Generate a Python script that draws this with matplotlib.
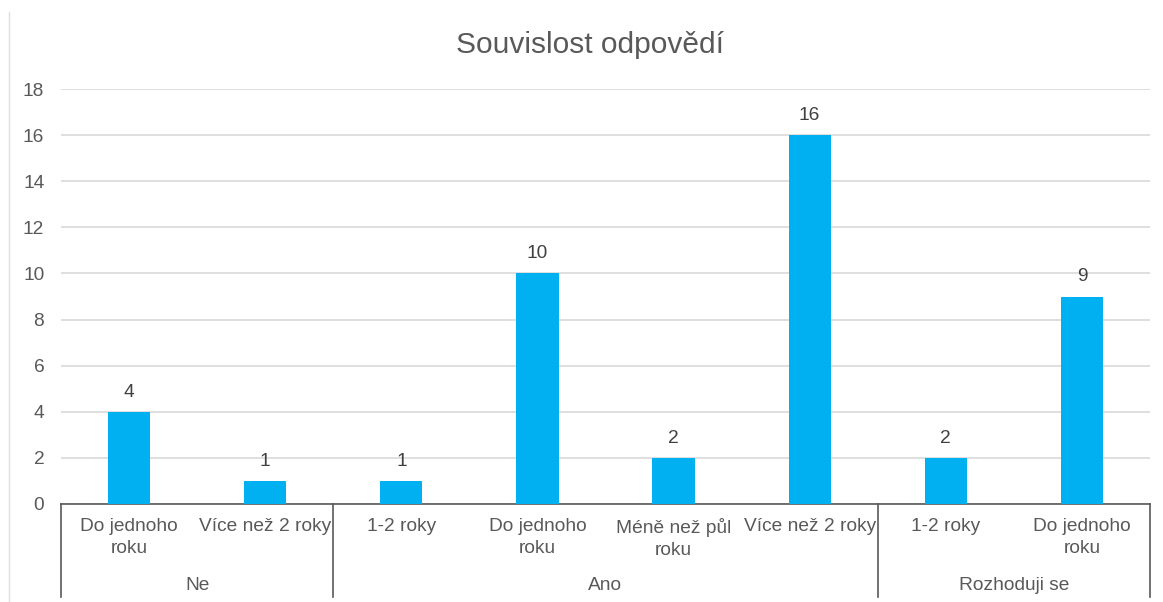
import matplotlib.pyplot as plt
from matplotlib.lines import Line2D
import matplotlib.transforms as mtransforms

plt.rcParams['font.family'] = ['Liberation Sans', 'DejaVu Sans']

# data
categories = ['Do jednoho\nroku', 'Více než 2 roky',
              '1-2 roky', 'Do jednoho\nroku', 'Méně než půl\nroku', 'Více než 2 roky',
              '1-2 roky', 'Do jednoho\nroku']
values = [4, 1, 1, 10, 2, 16, 2, 9]
groups = ['Ne', 'Ano', 'Rozhoduji se']
group_sizes = [2, 4, 2]

bar_color = '#00B0F0'
text_color = '#595959'
fs = 13.8

fig = plt.figure(figsize=(11.63, 6.02), dpi=100)
ax = fig.add_axes([61 / 1163, 98 / 602, (1150 - 61) / 1163, (504 - 89) / 602])

x = list(range(len(values)))
bars = ax.bar(x, values, width=0.31, color=bar_color, zorder=3)
ax.bar_label(bars, padding=8, fontsize=fs, color='#404040')

ax.set_xlim(-0.5, len(values) - 0.5)
ax.set_ylim(0, 18)
ax.set_yticks(range(0, 19, 2))
ax.yaxis.grid(True, color='#D9D9D9', linewidth=1.2, zorder=0)
ax.tick_params(axis='y', length=0, pad=12, labelsize=fs, labelcolor=text_color)
ax.set_xticks([])
for s in ['top', 'right', 'left']:
    ax.spines[s].set_visible(False)
ax.spines['bottom'].set_color('#595959')
ax.spines['bottom'].set_linewidth(1.2)

trans = mtransforms.blended_transform_factory(ax.transData, ax.transAxes)
px = 1 / 415  # one pixel in axes height units

# category labels
for xi, lab in zip(x, categories):
    ax.text(xi, -14 * px, lab, transform=trans, ha='center', va='top',
            fontsize=fs, color=text_color, linespacing=1.4)

# group separators and labels
start = 0
bounds = [-0.5]
for g, n in zip(groups, group_sizes):
    center = start + (n - 1) / 2
    ax.text(center, -81 * px, g, transform=trans, ha='center', va='center',
            fontsize=fs, color=text_color)
    start += n
    bounds.append(start - 0.5)
for b in bounds:
    ax.add_line(Line2D([b, b], [0, -93 * px], transform=trans, color='#595959',
                       linewidth=1.2, clip_on=False))

fig.suptitle('Souvislost odpovědí', x=590 / 1163, y=1 - 45 / 602,
             va='center', fontsize=21.5, color=text_color)

# faint sheet edge on the left
fig.add_artist(Line2D([9 / 1163, 9 / 1163], [0, 1 - 12 / 602], transform=fig.transFigure,
                      color='#E0E0E0', linewidth=1))

fig.savefig('out.png', dpi=100)
